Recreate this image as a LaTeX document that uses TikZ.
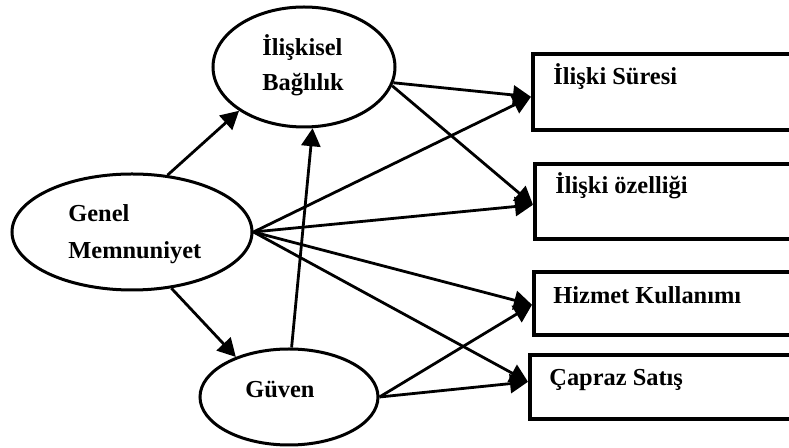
\documentclass[tikz,border=0pt]{standalone}
\usepackage{fontspec}
\setmainfont{Liberation Serif}
\usetikzlibrary{arrows.meta,shapes.geometric}
\begin{document}
\begin{tikzpicture}[x=0.5pt,y=-0.5pt,
  construct/.style={ellipse,draw,line width=1.5pt,inner sep=0pt},
  outcome/.style={rectangle,draw,line width=1.8pt,inner sep=0pt,anchor=north west,minimum width=140pt},
  lbl/.style={anchor=base west,inner sep=0pt,font=\fontsize{12.2}{15}\selectfont\bfseries},
  link/.style={line width=1.4pt,-{Triangle[length=9pt,width=9.5pt]}}]
\useasboundingbox (0,0) rectangle (789,448);
\clip (0,0) rectangle (789,448);

% latent constructs
\node[construct,minimum width=91pt,minimum height=60pt] (ib) at (304,67) {};
\node[construct,minimum width=120pt,minimum height=58pt] (gm) at (132,232) {};
\node[construct,minimum width=89pt,minimum height=48pt] (gv) at (289,397) {};

\node[lbl] (ibt1) at (262,56) {İlişkisel};
\node[lbl] (ibt2) at (262,91) {Bağlılık};
\node[lbl] (gmt1) at (68,222) {Genel};
\node[lbl] (gmt2) at (68,259) {Memnuniyet};
\node[lbl] (gvt) at (245,398) {Güven};

% outcome boxes (open to the right)
\node[outcome,minimum height=38pt] (b1) at (531,52) {};
\node[outcome,minimum height=37.5pt] (b2) at (533,162) {};
\node[outcome,minimum height=31.5pt] (b3) at (532,270) {};
\node[outcome,minimum height=32pt] (b4) at (528,353) {};

\node[lbl] (b1t) at (553,85) {İlişki Süresi};
\node[lbl] (b2t) at (555,194) {İlişki özelliği};
\node[lbl] (b3t) at (553,304) {Hizmet Kullanımı};
\node[lbl] (b4t) at (549,386) {Çapraz Satış};

% paths
\draw[link] (gm.58) -- (ib.-146);
\draw[link] (gm.-55) -- (gv.143);
\draw[link] (gv.87) -- (ib.-82);

\draw[link] (ib.-10) -- ([yshift=-2.5pt]b1.west);
\draw[link] (ib.-12) -- ([yshift=-1.75pt]b2.west);

\draw[link] (gm.east) -- ([yshift=-2.5pt]b1.west);
\draw[link] (gm.east) -- ([yshift=-1.75pt]b2.west);
\draw[link] (gm.east) -- ([yshift=-0.75pt]b3.west);
\draw[link] (gm.east) -- ([yshift=2.5pt]b4.west);

\draw[link] (gv.east) -- ([yshift=-0.75pt]b3.west);
\draw[link] (gv.east) -- ([yshift=2.5pt]b4.west);
\end{tikzpicture}
\end{document}
